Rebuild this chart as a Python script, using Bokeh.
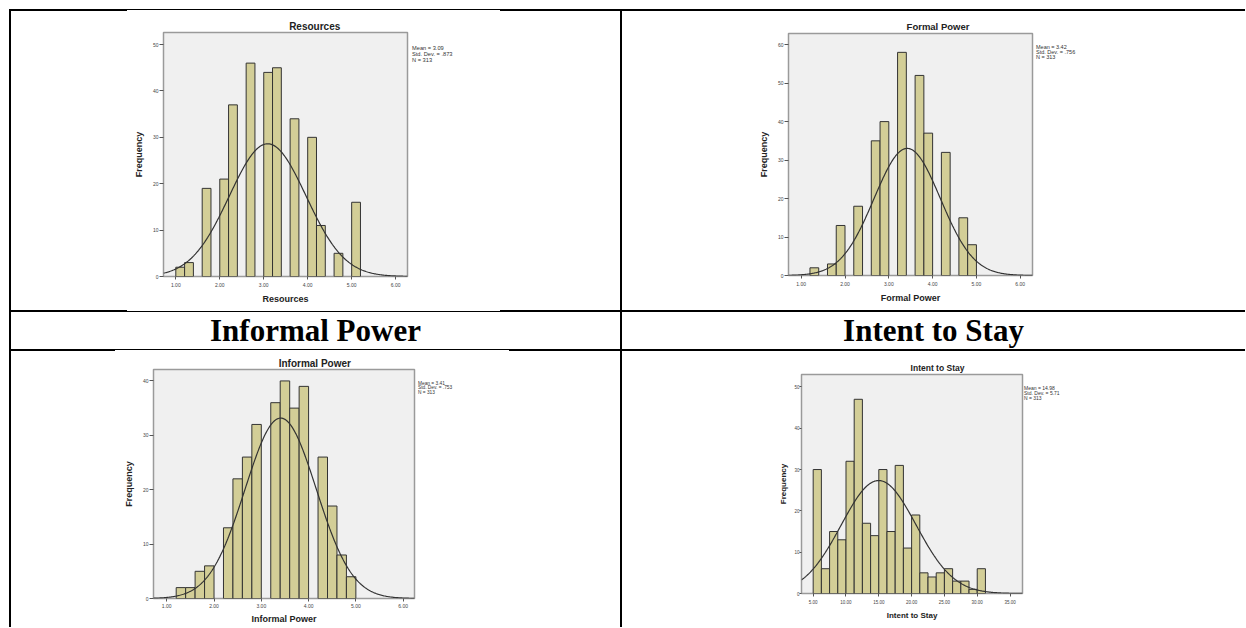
import numpy as np
from bokeh.plotting import figure
from bokeh.models import ColumnDataSource, FixedTicker, NumeralTickFormatter, Div, Spacer
from bokeh.layouts import row, column
from bokeh.embed import file_html
from bokeh.resources import INLINE

# ---------------- data ----------------
# Resources: bins of width 0.2 starting at 1.0
res_bin_start = 1.0
res_bin_width = 0.2
res_counts = [2, 3, 0, 19, 0, 21, 37, 0, 46, 0, 44, 45, 0, 34, 0, 30, 11, 0, 5, 0, 16]
res_mean, res_sd, res_n = 3.09, 0.873, 313
res_stats = ["Mean = 3.09", "Std. Dev. = .873", "N = 313"]

# Formal Power: bins of width 0.2 starting at 1.2
fp_bin_start = 1.2
fp_bin_width = 0.2
fp_counts = [2, 0, 3, 13, 0, 18, 0, 35, 40, 0, 58, 0, 52, 37, 0, 32, 0, 15, 8]
fp_mean, fp_sd, fp_n = 3.42, 0.756, 313
fp_stats = ["Mean = 3.42", "Std. Dev. = .756", "N = 313"]

# Informal Power: bins of width 0.2 starting at 1.2
ip_bin_start = 1.2
ip_bin_width = 0.2
ip_counts = [2, 2, 5, 6, 0, 13, 22, 26, 32, 0, 36, 40, 35, 39, 0, 26, 17, 8, 4]
ip_mean, ip_sd, ip_n = 3.41, 0.753, 313
ip_stats = ["Mean = 3.41", "Std. Dev. = .753", "N = 313"]

# Intent to Stay: bins of width 1.25 starting at 5.0
its_bin_start = 5.0
its_bin_width = 1.25
its_counts = [30, 6, 15, 13, 32, 47, 17, 14, 30, 15, 31, 11, 19, 5, 4, 5, 6, 3, 3, 1, 6]
its_mean, its_sd, its_n = 14.98, 5.71, 313
its_stats = ["Mean = 14.98", "Std. Dev. = 5.71", "N = 313"]

power_ticks = [1, 2, 3, 4, 5, 6]
stay_ticks = [5, 10, 15, 20, 25, 30, 35]

header_left = "Informal Power"
header_right = "Intent to Stay"

SANS = "Liberation Sans"
SERIF = "Liberation Serif"


def hist_fig(xlabel, counts, bin_start, bin_width, mean, sd, n,
             x_range, y_range, xticks, yticks, bl, fw, rb, h, bb,
             label_size, tick_size, x_std=(3, 4)):
    p = figure(width=bl + fw + rb, height=h, x_range=x_range, y_range=y_range,
               output_backend="svg", toolbar_location=None,
               min_border_left=bl, min_border_right=rb,
               min_border_top=1, min_border_bottom=bb,
               background_fill_color="#f0f0f0", border_fill_color="white",
               outline_line_color="#9a9a9a", outline_line_width=1.5)
    p.grid.visible = False
    left = [bin_start + i * bin_width for i, c in enumerate(counts) if c > 0]
    top = [c for c in counts if c > 0]
    src = ColumnDataSource(dict(left=left, right=[l + bin_width for l in left], top=top))
    p.quad(left="left", right="right", bottom=0, top="top", source=src,
           fill_color="#d3ce97", line_color="#333333", line_width=1)
    # fitted normal curve from the stated mean / sd / N
    xs = np.linspace(x_range[0], x_range[1], 300)
    ys = n * bin_width / (sd * np.sqrt(2 * np.pi)) * np.exp(-0.5 * ((xs - mean) / sd) ** 2)
    p.line(xs, ys, line_color="#333333", line_width=1.2)

    p.xaxis.ticker = FixedTicker(ticks=xticks)
    p.xaxis.formatter = NumeralTickFormatter(format="0.00")
    p.yaxis.ticker = FixedTicker(ticks=yticks)
    p.xaxis.axis_label = xlabel
    p.yaxis.axis_label = "Frequency"
    for ax in (p.xaxis[0], p.yaxis[0]):
        ax.axis_line_color = None
        ax.major_tick_line_color = "#555555"
        ax.major_tick_in = 0
        ax.minor_tick_line_color = None
        ax.major_label_text_font = SANS
        ax.major_label_text_font_size = f"{tick_size}px"
        ax.major_label_text_color = "#444444"
        ax.axis_label_text_font = SANS
        ax.axis_label_text_font_style = "bold"
        ax.axis_label_text_font_size = f"{label_size}px"
        ax.axis_label_text_color = "#222222"
    p.xaxis.major_tick_out = 3
    p.xaxis.major_label_standoff = x_std[0]
    p.xaxis.axis_label_standoff = x_std[1]
    p.yaxis.major_tick_out = 4
    p.yaxis.major_label_standoff = 1
    p.yaxis.axis_label_standoff = 6
    return p


def title_div(text, w, h, cx, baseline, size):
    # centred on cx (SPSS centres the title over the whole chart image)
    pl = max(0.0, 2 * cx - w)
    pr = max(0.0, w - 2 * cx)
    pad_top = baseline - 0.8465 * size
    return Div(text=text, width=w, height=h, margin=0,
               styles={"font-family": SANS, "font-weight": "bold",
                       "font-size": f"{size}px", "line-height": f"{size}px",
                       "text-align": "center", "color": "#222222",
                       "white-space": "nowrap", "box-sizing": "border-box",
                       "padding-left": f"{pl}px", "padding-right": f"{pr}px",
                       "padding-top": f"{pad_top}px", "background-color": "white"})


def stats_div(lines, w, h, pad_top, pad_left, size, gap):
    return Div(text="<br>".join(lines), width=w, height=h, margin=0,
               styles={"font-family": SANS, "font-size": f"{size}px",
                       "line-height": f"{gap}px", "color": "#333333",
                       "white-space": "nowrap", "padding-top": f"{pad_top}px",
                       "padding-left": f"{pad_left}px", "box-sizing": "border-box",
                       "background-color": "white"})


def header_div(text, w, h):
    return Div(text=text, width=w, height=h, margin=0,
               styles={"font-family": SERIF, "font-weight": "bold",
                       "font-size": "31px", "line-height": f"{h}px",
                       "text-align": "center", "color": "black",
                       "overflow": "hidden", "background-color": "white"})


def line(w, h):
    return Div(width=w, height=h, margin=0, styles={"background-color": "black"})


def thin_line(w, side):
    # part of a 2px rule partly covered by the pasted chart image
    return Div(width=w, height=2, margin=0,
               styles={"background-color": "white", "box-sizing": "border-box",
                       f"border-{side}": "1px solid black"})


def hrule(segments):
    parts = []
    for w, kind in segments:
        parts.append(line(w, 2) if kind == "thick" else thin_line(w, kind))
    return row(*parts)


def cell(title, fig, tsize, cx, baseline, bt, W, H, stats, s_top, s_left, s_size, s_gap):
    t = title_div(title, fig.width, bt - 1, cx, baseline, tsize)
    s = stats_div(stats, W - fig.width, H, s_top, s_left, s_size, s_gap)
    return row(column(t, fig), s)


# top-left cell: x 11..620, y 11..310  (frame top at +21)
tl_fig = hist_fig("Resources", res_counts, res_bin_start, res_bin_width,
                  res_mean, res_sd, res_n,
                  (0.72, 6.27), (0, 52.6), power_ticks, [0, 10, 20, 30, 40, 50],
                  152, 244, 4, 299 - 20, 34, 9, 5)
tl = cell("Resources", tl_fig, 10, 303.7, 19.2, 21, 609, 299,
          res_stats, 33.5, 1, 5.7, 6)

# top-right cell: x 622..1245 (frame top at +22)
tr_fig = hist_fig("Formal Power", fp_counts, fp_bin_start, fp_bin_width,
                  fp_mean, fp_sd, fp_n,
                  (0.71, 6.28), (0, 62.9), power_ticks, [0, 10, 20, 30, 40, 50, 60],
                  166, 244, 4, 299 - 21, 35, 9, 5)
tr = cell("Formal Power", tr_fig, 9.5, 316, 19.4, 22, 623, 299,
          fp_stats, 34, 0, 5.5, 5)

# bottom-left cell: x 11..620, y 351..627 (frame top at +18)
bl_fig = hist_fig("Informal Power", ip_counts, ip_bin_start, ip_bin_width,
                  ip_mean, ip_sd, ip_n,
                  (0.72, 6.24), (0, 42.1), power_ticks, [0, 10, 20, 30, 40],
                  142, 261, 4, 276 - 17, 29, 9, 5, x_std=(2, 3))
bl = cell("Informal Power", bl_fig, 10, 303.8, 16.6, 18, 609, 276,
          ip_stats, 30.8, 0, 4.8, 4.4)

# bottom-right cell (frame top at +23)
br_fig = hist_fig("Intent to Stay", its_counts, its_bin_start, its_bin_width,
                  its_mean, its_sd, its_n,
                  (3.22, 36.9), (0, 53.0), stay_ticks, [0, 10, 20, 30, 40, 50],
                  179, 221, 2, 276 - 22, 34, 8, 4.5)
br_fig.yaxis.major_tick_out = 2
br_fig.yaxis.major_label_standoff = 0
br_fig.yaxis.axis_label_standoff = 3
br = cell("Intent to Stay", br_fig, 8.5, 315.5, 20.3, 23, 623, 276,
          its_stats, 34.8, 0, 5, 5)

h_left = header_div(header_left, 609, 37)
h_right = header_div(header_right, 623, 37)

table = column(
    hrule([(118, "thick"), (373, "top"), (745, "thick")]),
    row(line(2, 299), tl, line(2, 299), tr),
    hrule([(118, "thick"), (373, "bottom"), (745, "thick")]),
    row(line(2, 37), h_left, line(2, 37), h_right),
    hrule([(106, "thick"), (394, "top"), (736, "thick")]),
    row(line(2, 276), bl, line(2, 276), br),
)
layout = column(Spacer(height=9, width=1245), row(Spacer(width=9, height=618), table))

open("out.html", "w").write(file_html(layout, INLINE))
